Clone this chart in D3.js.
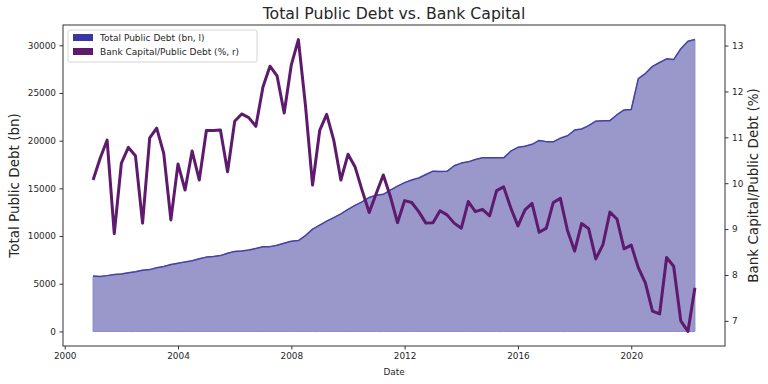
<!DOCTYPE html>
<meta charset="utf-8">
<style>
    body { margin: 0; background: #fff; }
    text { font-family: 'DejaVu Sans', sans-serif; fill: #262626; }
    .tick text { font-size: 8.9px; }
    .tick line { stroke: #333; }
    .domain { display: none; }
    .debt-area { fill: #9a98cb;
                 stroke: #8886cc;
                 stroke-width: 1px; }
    .debt-line { fill: none;
                 stroke: #4542a6;
                 stroke-width: 1.5px;
                 stroke-linejoin: round; }
    .capital-line { fill: none;
                    stroke: #5e1a6c;
                    stroke-width: 3px;
                    stroke-linejoin: round; }
    .frame { fill: none; stroke: #333; stroke-width: 1px; }
    .title { font-size: 15.7px; }
    .axis-label { font-size: 13.5px; }
    .legend-box { fill: #fff; stroke: #d6d6d6; stroke-width: 1px; }
    .legend-label { font-size: 9px; }
</style>
<body>
<div id="chart"></div>
<script src="https://d3js.org/d3.v7.min.js"></script>
<script>
    var width = 768,
        height = 384;

    var margin = {top: 25, right: 43, bottom: 38, left: 63};

    // quarterly observations, 2001 Q1 .. 2022 Q2
    var quarters = d3.timeMonths(new Date(2001, 0, 1), new Date(2022, 4, 1), 3);

    // Total Public Debt, billions (left axis)
    var debt = [
        5800, 5760, 5850, 5960, 6030, 6150, 6260, 6420,
        6480, 6680, 6800, 7010, 7150, 7290, 7400, 7610,
        7790, 7860, 7950, 8190, 8390, 8440, 8530, 8700,
        8870, 8890, 9030, 9250, 9460, 9520, 10050, 10720,
        11150, 11570, 11930, 12330, 12790, 13220, 13590, 14050,
        14290, 14370, 14820, 15240, 15600, 15880, 16090, 16450,
        16800, 16780, 16790, 17370, 17650, 17780, 18030, 18200,
        18200, 18200, 18200, 18900, 19300, 19420, 19620, 20030,
        19900, 19880, 20270, 20520, 21110, 21230, 21580, 22050,
        22100, 22100, 22720, 23220, 23270, 26500, 27040, 27790,
        28200, 28580, 28500, 29640, 30430, 30600
    ];

    // Bank Capital / Public Debt, percent (right axis)
    var capitalRatio = [
        10.07, 10.54, 10.94, 8.90, 10.44, 10.78, 10.60, 9.13,
        10.99, 11.20, 10.65, 9.20, 10.42, 9.85, 10.70, 10.07,
        11.15, 11.15, 11.16, 10.25, 11.35, 11.51, 11.43, 11.24,
        12.10, 12.55, 12.34, 11.53, 12.58, 13.13, 11.70, 9.96,
        11.15, 11.50, 10.94, 10.07, 10.63, 10.36, 9.85, 9.36,
        9.78, 10.18, 9.71, 9.14, 9.62, 9.58, 9.38, 9.13,
        9.14, 9.40, 9.31, 9.13, 9.02, 9.60, 9.38, 9.43,
        9.29, 9.84, 9.92, 9.46, 9.07, 9.42, 9.56, 8.93,
        9.02, 9.58, 9.67, 8.97, 8.52, 9.12, 9.01, 8.35,
        8.66, 9.37, 9.22, 8.57, 8.65, 8.16, 7.83, 7.21,
        7.15, 8.38, 8.19, 7.00, 6.77, 7.72
    ];

    var leftTicks = [0, 5000, 10000, 15000, 20000, 25000, 30000];
    var rightTicks = [7, 8, 9, 10, 11, 12, 13];
    var yearTicks = [2000, 2004, 2008, 2012, 2016, 2020];

    var legendItems = [
        {label: "Total Public Debt (bn, l)", color: "#3a37a3"},
        {label: "Bank Capital/Public Debt (%, r)", color: "#5e1a6c"}
    ];

    var data = quarters.map((d, i) => ({date: d, debt: debt[i], ratio: capitalRatio[i]}));

    // matplotlib style 5% padding
    function pad(extent) {
        var p = (extent[1] - extent[0]) * 0.05;
        return [extent[0] - p, extent[1] + p];
    }

    var x0 = d3.extent(quarters, d => +d),
        xp = (x0[1] - x0[0]) * 0.05;

    var x = d3.scaleTime()
        .domain([new Date(x0[0] - xp), new Date(x0[1] + xp)])
        .range([margin.left, width - margin.right]);

    var yLeft = d3.scaleLinear()
        .domain(pad([0, d3.max(debt)]))
        .range([height - margin.bottom, margin.top]);

    var yRight = d3.scaleLinear()
        .domain(pad(d3.extent(capitalRatio)))
        .range([height - margin.bottom, margin.top]);

    var svg = d3.select("#chart").append("svg")
        .attr("width", width)
        .attr("height", height);

    var area = d3.area()
        .x(d => x(d.date))
        .y0(yLeft(0))
        .y1(d => yLeft(d.debt));

    var debtLine = d3.line()
        .x(d => x(d.date))
        .y(d => yLeft(d.debt));

    var ratioLine = d3.line()
        .x(d => x(d.date))
        .y(d => yRight(d.ratio));

    svg.append("path")
        .datum(data)
        .attr("class", "debt-area")
        .attr("d", area);

    svg.append("path")
        .datum(data)
        .attr("class", "debt-line")
        .attr("d", debtLine);

    svg.append("path")
        .datum(data)
        .attr("class", "capital-line")
        .attr("d", ratioLine);

    // axes
    svg.append("g")
        .attr("transform", "translate(0," + (height - margin.bottom) + ")")
        .call(d3.axisBottom(x)
            .tickValues(yearTicks.map(y => new Date(y, 0, 1)))
            .tickFormat(d3.timeFormat("%Y"))
            .tickSize(3.5)
            .tickPadding(3.5));

    svg.append("g")
        .attr("transform", "translate(" + margin.left + ",0)")
        .call(d3.axisLeft(yLeft)
            .tickValues(leftTicks)
            .tickFormat(d3.format("d"))
            .tickSize(3.5)
            .tickPadding(3.5));

    svg.append("g")
        .attr("transform", "translate(" + (width - margin.right) + ",0)")
        .call(d3.axisRight(yRight)
            .tickValues(rightTicks)
            .tickFormat(d3.format("d"))
            .tickSize(3.5)
            .tickPadding(3.5));

    svg.append("rect")
        .attr("class", "frame")
        .attr("x", margin.left)
        .attr("y", margin.top)
        .attr("width", width - margin.left - margin.right)
        .attr("height", height - margin.top - margin.bottom);

    // labels
    var midX = (margin.left + width - margin.right) / 2,
        midY = (margin.top + height - margin.bottom) / 2;

    svg.append("text")
        .attr("class", "title")
        .attr("x", midX)
        .attr("y", 19)
        .attr("text-anchor", "middle")
        .text("Total Public Debt vs. Bank Capital");

    svg.append("text")
        .attr("class", "tick")
        .attr("x", midX)
        .attr("y", 375)
        .attr("text-anchor", "middle")
        .style("font-size", "8.9px")
        .text("Date");

    svg.append("text")
        .attr("class", "axis-label")
        .attr("transform", "translate(18.5," + midY + ") rotate(-90)")
        .attr("text-anchor", "middle")
        .text("Total Public Debt (bn)");

    svg.append("text")
        .attr("class", "axis-label")
        .attr("transform", "translate(758," + midY + ") rotate(-90)")
        .attr("text-anchor", "middle")
        .text("Bank Capital/Public Debt (%)");

    // legend
    var legend = svg.append("g")
        .attr("transform", "translate(68,30)");

    legend.append("rect")
        .attr("class", "legend-box")
        .attr("width", 189)
        .attr("height", 32)
        .attr("rx", 2);

    var items = legend.selectAll(".legend-item")
        .data(legendItems)
        .enter().append("g")
        .attr("class", "legend-item")
        .attr("transform", (d, i) => "translate(0," + (4 + i * 14) + ")");

    items.append("rect")
        .attr("x", 5)
        .attr("y", 0)
        .attr("width", 20)
        .attr("height", 7)
        .attr("fill", d => d.color);

    items.append("text")
        .attr("class", "legend-label")
        .attr("x", 32)
        .attr("y", 7)
        .text(d => d.label);
</script>
